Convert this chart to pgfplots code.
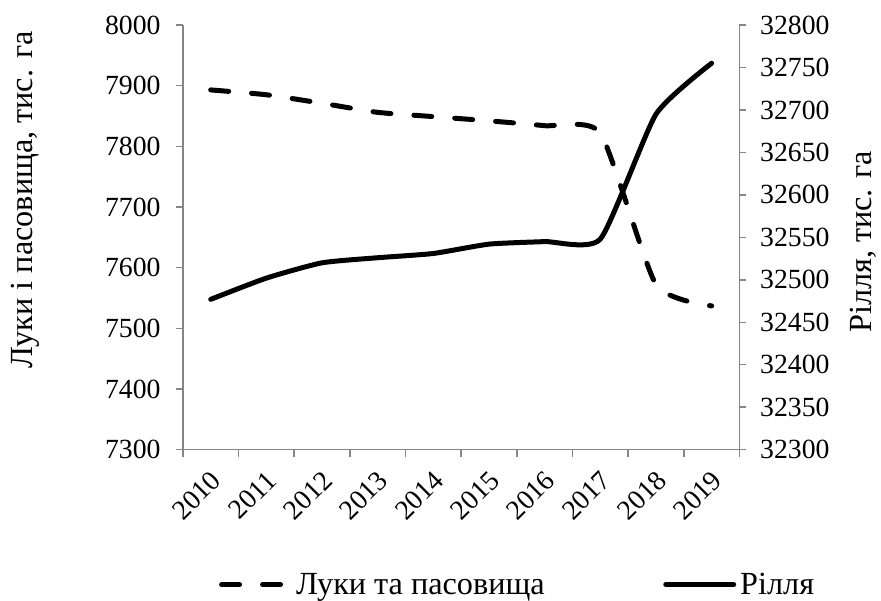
\documentclass[border=0pt]{standalone}
\usepackage{pgfplots}
\pgfplotsset{compat=1.18}
\usepackage{fontspec}
\setmainfont{Liberation Serif}
\definecolor{axgray}{RGB}{134,134,134}
\newcommand{\tfont}{\fontsize{20.8}{24}\selectfont}
\newcommand{\lfont}{\fontsize{24.2}{28}\selectfont}
\begin{document}
\begin{tikzpicture}
\pgfplotsset{
  common/.style={
    width=417.75pt, height=318.75pt, scale only axis,
    xmin=-0.5, xmax=9.5,
    tick label style={font=\tfont, text=black},
    scaled y ticks=false,
    /pgf/number format/assume math mode=true,
    /pgf/number format/.cd, set thousands separator={}, /pgfplots/.cd,
    axis line style={axgray, line width=1.1pt},
    tick style={axgray, line width=1.1pt},
    tick align=outside,
    major tick length=5.25pt,
    minor tick length=5.25pt,
    clip=false,
  }
}
\begin{axis}[common, name=ax,
  axis x line*=bottom, axis y line*=left,
  ymin=7300, ymax=8000, ytick={7300,7400,...,8000},
  yticklabel style={xshift=-8pt},
  xtick={0,...,9},
  xticklabels={2010,2011,2012,2013,2014,2015,2016,2017,2018,2019},
  major x tick style={draw=none},
  minor xtick={-0.5,0.5,...,9.5},
  xticklabel style={rotate=45, anchor=north east, xshift=-3.75pt, yshift=-2.5pt},
]
\addplot[black, line width=3.75pt, line cap=round, dash pattern=on 13.5pt off 17.25pt, smooth, tension=0.33] coordinates {
(0,7893) (1,7885) (2,7871) (3,7856) (4,7849) (5,7842) (6,7834) (7,7822) (8,7572) (9,7537)
};
\end{axis}
\begin{axis}[common,
  axis y line*=right, axis x line=none,
  ymin=32300, ymax=32800, ytick={32300,32350,...,32800},
  yticklabel style={xshift=6.75pt},
  legend style={at={(axis description cs:0.0646,-0.3176)}, anchor=west, draw=none, fill=none,
    inner sep=0pt, font=\lfont, legend columns=2,
    nodes={inner xsep=3pt},
    /tikz/every even column/.append style={column sep=86pt}},
  legend cell align=left,
  legend image code/.code={\draw[#1] (0pt,0pt) -- (51pt,0pt);},
]
\addlegendimage{black, line width=3.75pt, line cap=round, dash pattern=on 13.5pt off 17.25pt}
\addlegendentry{Луки та пасовища}
\addplot[black, line width=3.75pt, line cap=round, smooth, tension=0.33] coordinates {
(0,32477) (1,32502) (2,32520) (3,32526) (4,32531) (5,32542) (6,32545) (7,32548) (8,32695) (9,32755)
};
\addlegendentry{Рілля}
\end{axis}
\node[rotate=90, font=\lfont, anchor=center] at ([shift={(-118.5pt,187.5pt)}]ax.south west) {Луки і пасовища, тис. га};
\node[rotate=90, font=\lfont, anchor=center] at ([shift={(510.75pt,156pt)}]ax.south west) {Рілля, тис. га};
\path ([shift={(-137.25pt,-113.25pt)}]ax.south west) rectangle ([shift={(523.5pt,337.5pt)}]ax.south west);
\end{tikzpicture}
\end{document}
